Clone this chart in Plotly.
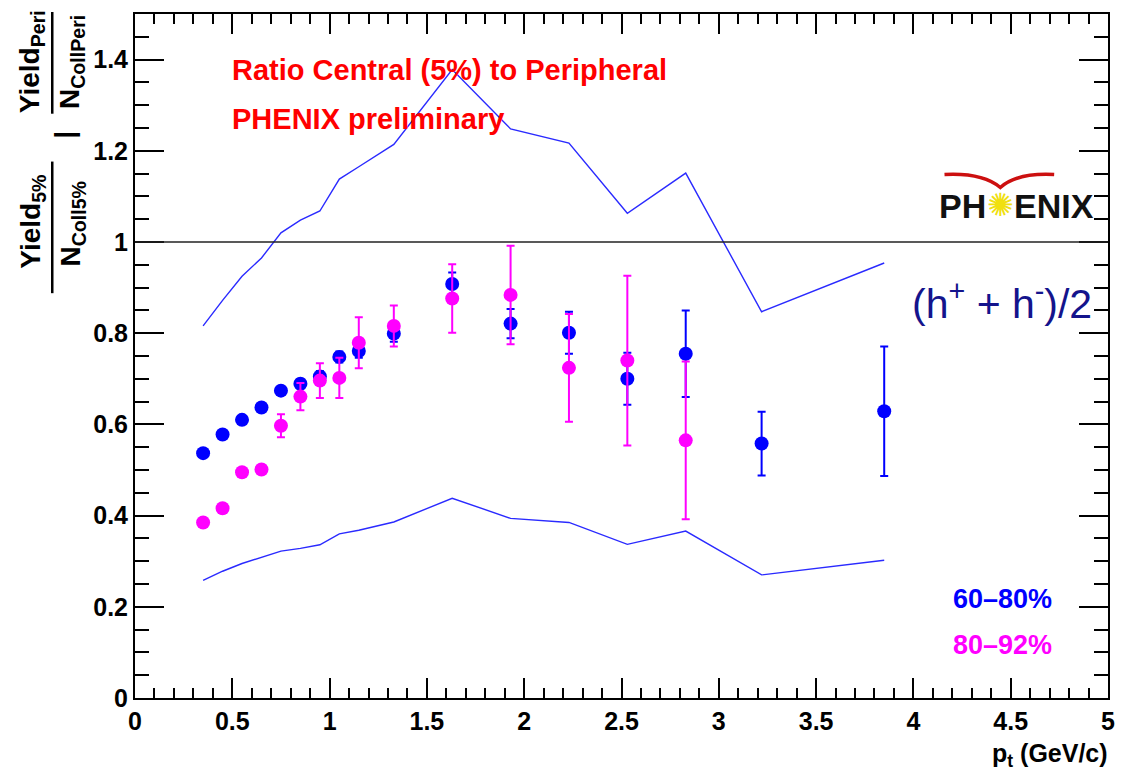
import plotly.graph_objects as go

# ---------------- data ----------------
pt = [0.35, 0.45, 0.55, 0.65, 0.75, 0.85, 0.95, 1.05, 1.15, 1.33,
      1.63, 1.93, 2.23, 2.53, 2.83, 3.22, 3.85]

ratio_60_80 = [0.537, 0.578, 0.610, 0.637, 0.674, 0.689, 0.705, 0.748, 0.761, 0.799,
               0.908, 0.821, 0.801, 0.700, 0.755, 0.558, 0.629]
err_60_80 = [0.005, 0.005, 0.006, 0.006, 0.008, 0.010, 0.012, 0.012, 0.015, 0.018,
             0.025, 0.032, 0.046, 0.057, 0.095, 0.070, 0.142]

pt_80_92 = pt[:15]
ratio_80_92 = [0.385, 0.416, 0.495, 0.501, 0.597, 0.661, 0.696, 0.702, 0.779, 0.816,
               0.876, 0.884, 0.724, 0.740, 0.565]
err_80_92 = [0.005, 0.005, 0.008, 0.008, 0.025, 0.030, 0.038, 0.044, 0.056, 0.045,
             0.075, 0.108, 0.118, 0.186, 0.173]

upper_band = [0.816, 0.872, 0.925, 0.965, 1.020, 1.048, 1.068, 1.138, 1.165, 1.214,
              1.378, 1.248, 1.217, 1.063, 1.151, 0.847, 0.954]
lower_band = [0.258, 0.278, 0.295, 0.308, 0.322, 0.328, 0.336, 0.360, 0.368, 0.386,
              0.438, 0.394, 0.385, 0.337, 0.366, 0.270, 0.302]

x_ticks = [0, 0.5, 1, 1.5, 2, 2.5, 3, 3.5, 4, 4.5, 5]
y_ticks = [0, 0.2, 0.4, 0.6, 0.8, 1.0, 1.2, 1.4]

# ---------------- layout helpers (pixel -> paper) ----------------
W, H = 1127, 773
ML, MR, MT, MB = 135, 16, 12, 75
PW, PH = W - ML - MR, H - MT - MB


def px(x):
    return (x - ML) / PW


def py(y):
    return (H - MB - y) / PH


BLUE = "#0000ff"
MAG = "#ff00ff"
LINE_BLUE = "#2a2aff"
FONT = "Liberation Sans, Arial, Helvetica, sans-serif"

fig = go.Figure()

fig.add_trace(go.Scatter(x=pt, y=upper_band, mode="lines",
                         line=dict(color=LINE_BLUE, width=1.4), showlegend=False,
                         hoverinfo="skip"))
fig.add_trace(go.Scatter(x=pt, y=lower_band, mode="lines",
                         line=dict(color=LINE_BLUE, width=1.4), showlegend=False,
                         hoverinfo="skip"))
fig.add_trace(go.Scatter(x=pt, y=ratio_60_80, mode="markers", name="60-80%",
                         marker=dict(color=BLUE, size=14, symbol="circle"),
                         error_y=dict(type="data", array=err_60_80, color=BLUE,
                                      thickness=2, width=4),
                         showlegend=False))
fig.add_trace(go.Scatter(x=pt_80_92, y=ratio_80_92, mode="markers", name="80-92%",
                         marker=dict(color=MAG, size=14, symbol="circle"),
                         error_y=dict(type="data", array=err_80_92, color=MAG,
                                      thickness=2, width=4),
                         showlegend=False))

# unity line
fig.add_shape(type="line", xref="x", yref="y", x0=0, x1=5, y0=1, y1=1,
              line=dict(color="#222222", width=1.5))

ann = []
# in-plot texts
ann.append(dict(text="<b>Ratio Central (5%) to Peripheral</b>", x=px(230), y=py(68),
                xanchor="left", yanchor="middle", font=dict(family=FONT, size=29, color="#ff0000")))
ann.append(dict(text="<b>PHENIX preliminary</b>", x=px(230), y=py(117),
                xanchor="left", yanchor="middle", font=dict(family=FONT, size=29, color="#ff0000")))
ann.append(dict(text="(h<sup>+</sup> + h<sup>-</sup>)/2", x=px(1097), y=py(300),
                xanchor="right", yanchor="middle", font=dict(family=FONT, size=41, color="#14148c")))
ann.append(dict(text="<b>60\u201380%</b>", x=px(1057), y=py(599),
                xanchor="right", yanchor="middle", font=dict(family=FONT, size=27, color=BLUE)))
ann.append(dict(text="<b>80\u201392%</b>", x=px(1057), y=py(645),
                xanchor="right", yanchor="middle", font=dict(family=FONT, size=27, color=MAG)))
# PHENIX logo (approximation)
ann.append(dict(text="<b>PH</b>", x=px(991), y=py(205), xanchor="right", yanchor="middle",
                font=dict(family=FONT, size=34, color="#111111")))
ann.append(dict(text="<b>ENIX</b>", x=px(1015), y=py(205), xanchor="left", yanchor="middle",
                font=dict(family=FONT, size=34, color="#111111")))
ann.append(dict(text="\u273a", x=px(1003), y=py(204), xanchor="center", yanchor="middle",
                font=dict(family="DejaVu Sans", size=32, color="#f0e010")))
# x axis title
ann.append(dict(text="<b>p<sub>t</sub> (GeV/c)</b>", x=px(1113), y=py(755),
                xanchor="right", yanchor="middle", font=dict(family=FONT, size=25, color="black")))
# y axis title (fractions, rotated)
yt_font = dict(family=FONT, size=28, color="black")
ann.append(dict(text="<b>Yield<sub>5%</sub></b>", x=px(32), y=py(220), textangle=-90,
                xanchor="center", yanchor="middle", font=yt_font))
ann.append(dict(text="<b>N<sub>Coll5%</sub></b>", x=px(72), y=py(222), textangle=-90,
                xanchor="center", yanchor="middle", font=yt_font))
ann.append(dict(text="<b>|</b>", x=px(64), y=py(133), textangle=-90,
                xanchor="center", yanchor="middle", font=yt_font))
ann.append(dict(text="<b>Yield<sub>Peri</sub></b>", x=px(32), y=py(60), textangle=-90,
                xanchor="center", yanchor="middle", font=yt_font))
ann.append(dict(text="<b>N<sub>CollPeri</sub></b>", x=px(72), y=py(60), textangle=-90,
                xanchor="center", yanchor="middle", font=yt_font))

for a in ann:
    a.update(xref="paper", yref="paper", showarrow=False)

# fraction bars and logo wing
fig.add_shape(type="line", xref="paper", yref="paper", x0=px(52), x1=px(52),
              y0=py(160), y1=py(292), line=dict(color="black", width=2.5))
fig.add_shape(type="line", xref="paper", yref="paper", x0=px(52), x1=px(52),
              y0=py(10), y1=py(112), line=dict(color="black", width=2.5))


def pp(x, y):
    return f"{px(x)},{py(y)}"


fig.add_shape(type="path", xref="paper", yref="paper",
              path=f"M {pp(947,173)} Q {pp(985,171)} {pp(1003,186)} Q {pp(1020,171)} {pp(1057,173)}",
              line=dict(color="#cc1010", width=3.5))

axis_common = dict(showline=True, linecolor="black", linewidth=2, mirror="ticks",
                   ticks="inside", tickcolor="black", tickwidth=1.5, showgrid=False,
                   zeroline=False,
                   tickfont=dict(family=FONT, size=25, color="black", weight="bold"))

fig.update_xaxes(range=[0, 5], tickvals=x_ticks, ticklen=20,
                 minor=dict(dtick=0.1, tick0=0, ticks="inside", ticklen=10, tickcolor="black",
                            tickwidth=1.5, showgrid=False),
                 **axis_common)
fig.update_yaxes(range=[0, 1.5], tickvals=y_ticks, ticklen=29,
                 minor=dict(dtick=0.05, tick0=0, ticks="inside", ticklen=14, tickcolor="black",
                            tickwidth=1.5, showgrid=False),
                 **axis_common)

fig.update_layout(width=W, height=H, margin=dict(l=ML, r=MR, t=MT, b=MB),
                  paper_bgcolor="white", plot_bgcolor="white", annotations=ann,
                  showlegend=False)

fig.write_html("out.html")
